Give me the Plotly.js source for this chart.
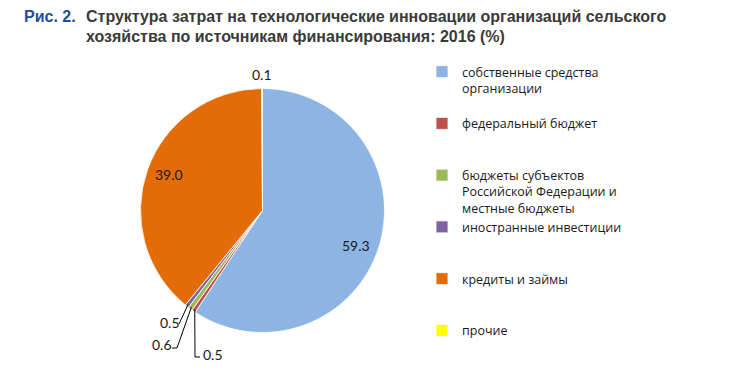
<!DOCTYPE html>
<html><head><meta charset="utf-8">
<script src="https://cdn.plot.ly/plotly-3.0.1.min.js"></script>
<style>html,body{margin:0;padding:0;background:#fff}</style>
</head><body><div id="chart" style="width:730px;height:379px"></div>
<script>
// ---- data ----
const categories = [
  "собственные средства организации",
  "федеральный бюджет",
  "бюджеты субъектов Российской Федерации и местные бюджеты",
  "иностранные инвестиции",
  "кредиты и займы",
  "прочие"
];
const values = [59.3, 0.5, 0.6, 0.5, 39.0, 0.1];
const valueLabels = ["59.3", "0.5", "0.6", "0.5", "39.0", "0.1"];
const figureNumber = "Рис. 2.";
const titleLines = [
  "Структура затрат на технологические инновации организаций сельского",
  "хозяйства по источникам финансирования: 2016 (%)"
];

// ---- styling / layout ----
const colors = ["#8DB4E2", "#C0504D", "#9BBB59", "#8064A2", "#E36C09", "#FFFF00"];
const legendLabels = [
  "собственные средства<br>организации<br> ",
  "федеральный бюджет<br> <br> ",
  "бюджеты субъектов<br>Российской Федерации и<br>местные бюджеты",
  "иностранные инвестиции<br> <br> ",
  "кредиты и займы<br> <br> ",
  "прочие"
];
const W = 730, H = 379;
const px = x => x / W, py = y => 1 - y / H;
const CX = 262.5, CY = 210.5, R = 122;

// angles of slice centres (clockwise from 12 o'clock)
const total = values.reduce((a, b) => a + b, 0);
let cum = 0;
const mids = values.map(v => { const m = (cum + v / 2) / total * 2 * Math.PI; cum += v; return m; });
const edge = (i, r) => [CX + r * Math.sin(mids[i]), CY - r * Math.cos(mids[i])];

const labelFont = {family: "Lato, 'Open Sans', sans-serif", size: 14, color: "#1a1a1a"};
const annotations = [];
// big slices – inside labels
const inside = {0: [356, 245], 4: [169, 175]};
Object.keys(inside).forEach(k => {
  const p = inside[k];
  annotations.push({x: px(p[0]), y: py(p[1]), xref: "paper", yref: "paper", text: valueLabels[k],
    showarrow: false, font: labelFont, xanchor: "center", yanchor: "middle"});
});
// 'прочие' above the top
const pTop = edge(5, R + 14);
annotations.push({x: px(pTop[0]), y: py(pTop[1]), xref: "paper", yref: "paper", text: valueLabels[5],
  showarrow: false, font: labelFont, xanchor: "center", yanchor: "middle"});
// small slices with leader lines
const smallPos = {1: [213, 354], 2: [162, 344], 3: [170, 322]};
Object.keys(smallPos).forEach(k => {
  const p = smallPos[k];
  annotations.push({x: px(p[0]), y: py(p[1]), xref: "paper", yref: "paper", text: valueLabels[k],
    showarrow: false, font: labelFont, xanchor: "center", yanchor: "middle"});
});
// title
const titleFont = {family: "'Liberation Sans', Arial, sans-serif", size: 16, color: "#3A3A3A"};
annotations.push({x: px(22), y: py(17), xref: "paper", yref: "paper", text: "<b>" + figureNumber + "</b>",
  showarrow: false, xanchor: "left", yanchor: "middle",
  font: Object.assign({}, titleFont, {color: "#1F4E9A"})});
const titleY = [17, 36];
titleLines.forEach((t, i) => {
  annotations.push({x: px(84), y: py(titleY[i]), xref: "paper", yref: "paper", text: "<b>" + t + "</b>",
    showarrow: false, xanchor: "left", yanchor: "middle", font: titleFont});
});

const lineStyle = {color: "#000000", width: 1};
const e1 = edge(1, R - 2), e2 = edge(2, R - 2), e3 = edge(3, R - 2);
const path = pts => pts.map((p, i) => (i ? "L" : "M") + px(p[0]) + "," + py(p[1])).join(" ");
const shapes = [
  {type: "path", xref: "paper", yref: "paper", line: lineStyle, path: path([e1, [195, 357], [200, 357]])},
  {type: "path", xref: "paper", yref: "paper", line: lineStyle, path: path([e2, [177, 348], [172, 348]])},
  {type: "path", xref: "paper", yref: "paper", line: lineStyle, path: path([e3, [179, 324]])}
];

const trace = {
  type: "pie",
  labels: legendLabels,
  values: values,
  hovertext: categories,
  hoverinfo: "text+value",
  sort: false,
  direction: "clockwise",
  rotation: 0,
  textinfo: "none",
  marker: {colors: colors, line: {color: "#ffffff", width: 0.8}},
  domain: {x: [px(CX - R), px(CX + R)], y: [py(CY + R), py(CY - R)]}
};

const layout = {
  width: W, height: H,
  margin: {l: 0, r: 0, t: 0, b: 0},
  paper_bgcolor: "#ffffff",
  showlegend: true,
  legend: {
    x: px(422), xanchor: "left", y: py(57), yanchor: "top",
    valign: "top", itemwidth: 30, tracegroupgap: 0,
    font: {family: "'Open Sans', Lato, sans-serif", size: 12.5, color: "#1a1a1a"},
    bgcolor: "rgba(0,0,0,0)"
  },
  annotations: annotations,
  shapes: shapes
};

Plotly.newPlot("chart", [trace], layout, {displayModeBar: false, staticPlot: true});
</script>
</body></html>
